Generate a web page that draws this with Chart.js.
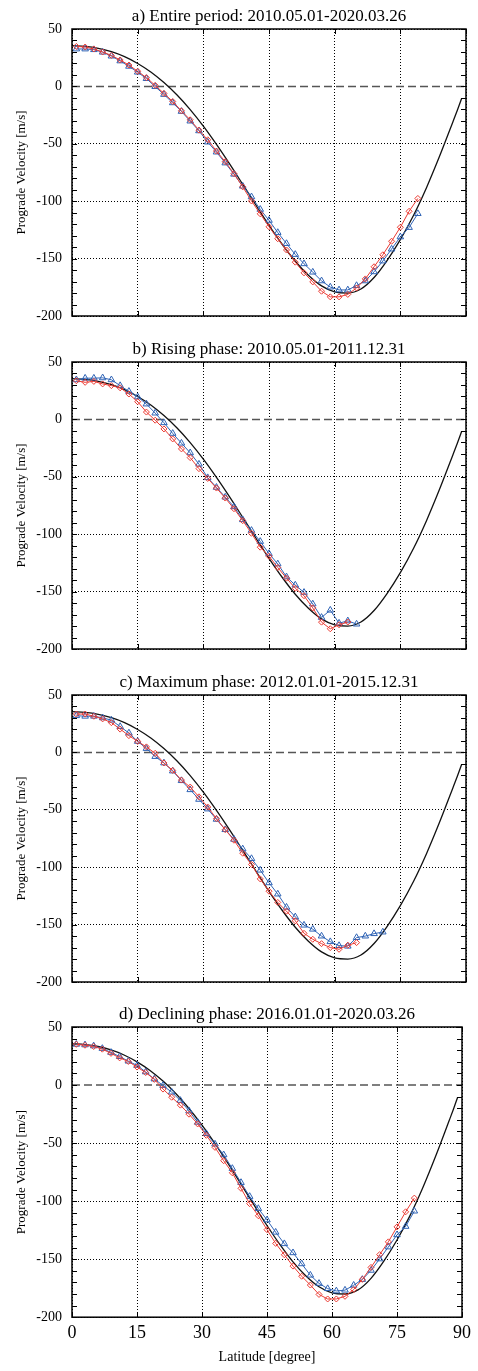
<!DOCTYPE html>
<html>
<head>
<meta charset="utf-8">
<script src="https://cdn.jsdelivr.net/npm/chart.js@4.4.1/dist/chart.umd.min.js"></script>
<style>
  body { margin: 0; background: #fff; }
  canvas { position: absolute; left: 0; }
</style>
</head>
<body>
<canvas id="velocity_chart_0" width="478" height="333" style="top:0px"></canvas>
<canvas id="velocity_chart_1" width="478" height="333" style="top:333px"></canvas>
<canvas id="velocity_chart_2" width="478" height="333" style="top:666px"></canvas>
<canvas id="velocity_chart_3" width="478" height="373" style="top:998px"></canvas>
<script>
// latitudes of the measured points (degrees)
const LAT_ODD = [1, 3, 5, 7, 9, 11, 13, 15, 17, 19, 21, 23, 25, 27, 29, 31, 33, 35, 37, 39,
  41, 43, 45, 47, 49, 51, 53, 55, 57, 59, 61, 63, 65, 67, 69, 71, 73, 75, 77, 79];

// reference profile (black curve)
const CURVE_LAT = [0, 3, 6, 9, 12, 15, 18, 21, 24, 27, 30, 33, 36, 39, 42, 45, 48, 51, 54, 57,
  60, 63, 66, 69, 72, 75, 78, 81, 84, 87, 88, 89];
const CURVE_VEL = [35.5, 34.9, 33.2, 30.2, 25.9, 20.0, 12.6, 3.4, -7.5, -20.2, -34.6, -50.5, -67.5, -85.3, -103.3, -121.0, -137.5, -152.3, -164.5, -173.8,
  -179.0, -180.0, -176.5, -166.5, -151.5, -133.5, -112.5, -88.0, -60.5, -31.0, -21.0, -10.5];

const A_RED = [34.8, 34.3, 32.6, 30.0, 27.0, 23.0, 18.6, 13.2, 7.6, 0.9, -6.1, -13.1, -21.3, -29.1, -38.1, -46.5, -56.3, -65.6, -76.0, -87.5,
  -99.8, -111.0, -122.3, -132.7, -142.5, -153.1, -162.4, -170.3, -178.4, -183.3, -183.3, -181.2, -175.6, -167.7, -157.1, -146.7, -134.9, -122.7, -108.8, -97.6];
const A_BLUE = [32.6, 32.6, 32.0, 29.8, 26.4, 22.2, 17.5, 12.4, 6.8, -0.2, -7.0, -14.3, -21.8, -30.2, -38.7, -48.5, -57.2, -66.7, -76.5, -86.9,
  -96.2, -107.1, -116.7, -127.3, -136.9, -146.4, -154.5, -161.8, -169.4, -174.8, -177.3, -177.3, -173.5, -169.4, -161.5, -152.1, -141.7, -131.1, -122.9, -110.8];

const B_RED = [33.7, 32.3, 33.1, 30.9, 29.4, 27.5, 22.1, 15.4, 6.4, -0.7, -8.3, -17.0, -25.7, -33.3, -42.9, -51.4, -59.8, -68.5, -77.8, -88.2,
  -99.2, -111.3, -119.2, -129.0, -138.3, -147.1, -153.6, -164.2, -176.6, -182.4, -178.9, -176.5];
const B_BLUE = [34.5, 35.9, 35.9, 36.2, 34.5, 29.4, 24.4, 19.6, 13.4, 5.5, -2.9, -12.2, -20.7, -29.1, -39.0, -50.8, -59.2, -67.7, -76.1, -87.4,
  -96.7, -106.3, -116.9, -125.9, -137.2, -144.3, -150.7, -160.8, -172.5, -166.2, -177.5, -175.5, -178.3];

const C_RED = [33.4, 33.4, 31.5, 29.2, 25.9, 20.3, 14.6, 9.6, 4.8, -0.8, -9.2, -15.7, -24.1, -30.2, -38.7, -47.6, -57.7, -67.3, -76.5, -87.8,
  -97.6, -110.2, -120.9, -130.7, -138.3, -146.7, -157.6, -162.8, -166.6, -170.0, -171.5, -168.0, -165.7];
const C_BLUE = [32.0, 31.5, 31.5, 30.1, 28.1, 22.5, 16.9, 9.6, 3.4, -3.6, -9.2, -16.2, -24.6, -32.5, -40.9, -49.3, -58.3, -67.3, -75.7, -84.1,
  -92.5, -102.6, -113.6, -123.4, -134.9, -143.3, -150.5, -154.0, -160.0, -164.9, -168.3, -168.8, -161.3, -160.0, -157.9, -156.5];

const D_RED = [35.1, 34.3, 33.2, 30.9, 27.3, 23.4, 20.3, 15.5, 10.8, 4.9, -3.5, -10.5, -17.3, -25.1, -33.5, -43.3, -53.7, -65.2, -75.6, -89.0,
  -102.2, -112.6, -124.6, -136.4, -146.2, -156.0, -164.7, -172.3, -180.4, -184.3, -184.3, -182.0, -176.2, -167.4, -157.1, -146.1, -135.1, -122.2, -109.2, -97.4];
const D_BLUE = [35.1, 34.6, 33.7, 31.5, 28.1, 24.5, 20.6, 16.9, 11.3, 5.2, -0.4, -6.1, -13.3, -22.3, -32.1, -41.9, -50.9, -60.1, -71.9, -84.0,
  -96.0, -106.4, -116.2, -126.8, -136.7, -144.5, -154.0, -163.8, -170.9, -175.4, -177.4, -176.7, -172.5, -167.5, -159.6, -149.8, -139.5, -129.0, -121.8, -108.6];

const TITLES = [
  'a) Entire period: 2010.05.01-2020.03.26',
  'b) Rising phase: 2010.05.01-2011.12.31',
  'c) Maximum phase: 2012.01.01-2015.12.31',
  'd) Declining phase: 2016.01.01-2020.03.26'
];
const RED_SERIES = [A_RED, B_RED, C_RED, D_RED];
const BLUE_SERIES = [A_BLUE, B_BLUE, C_BLUE, D_BLUE];

const X_MIN = 0, X_MAX = 90, X_STEP = 15;
const Y_MIN = -200, Y_MAX = 50, Y_STEP = 50, Y_MINOR = 10;
const ZERO_LEVEL = 0;

const SERIF = "'Liberation Serif', 'Times New Roman', 'DejaVu Serif', serif";
const RED = '#eb3a32';
const BLUE = '#2f63b5';

function toPoints(xs, ys) {
  let pts = [];
  for (let i = 0; i < ys.length; i++) {
    pts.push({x: xs[i], y: ys[i]});
  }
  return pts;
}

// frame round the plot area plus inward tick marks
const frameTicks = {
  id: 'frameTicks',
  afterDatasetsDraw(chart) {
    const {ctx, chartArea: a, scales: {x, y}} = chart;
    ctx.save();
    ctx.strokeStyle = '#000';
    ctx.lineWidth = 1;
    ctx.beginPath();
    for (let v = Y_MIN; v <= Y_MAX; v += Y_MINOR) {
      const py = Math.round(y.getPixelForValue(v)) + 0.5;
      ctx.moveTo(a.left, py); ctx.lineTo(a.left + 5, py);
      ctx.moveTo(a.right, py); ctx.lineTo(a.right - 5, py);
    }
    for (let v = X_MIN; v <= X_MAX; v += X_STEP) {
      const px = Math.round(x.getPixelForValue(v)) + 0.5;
      ctx.moveTo(px, a.top); ctx.lineTo(px, a.top + 5);
      ctx.moveTo(px, a.bottom); ctx.lineTo(px, a.bottom - 5);
    }
    ctx.stroke();
    ctx.lineWidth = 1.5;
    ctx.strokeRect(a.left, a.top, a.right - a.left, a.bottom - a.top);
    ctx.restore();
  }
};

function renderPanel(index) {
  let last = index == TITLES.length - 1;
  let chart_setup = {
    type: 'line',
    data: {
      datasets: [
        {
          data: toPoints(LAT_ODD, RED_SERIES[index]),
          borderColor: RED,
          borderWidth: 1,
          pointStyle: 'rectRot',
          pointRadius: 3,
          pointBorderColor: RED,
          pointBackgroundColor: 'rgba(0,0,0,0)',
          pointBorderWidth: 1,
          tension: 0
        },
        {
          data: toPoints(LAT_ODD, BLUE_SERIES[index]),
          borderColor: BLUE,
          borderWidth: 1,
          pointStyle: 'triangle',
          pointRadius: 3.8,
          pointBorderColor: BLUE,
          pointBackgroundColor: 'rgba(0,0,0,0)',
          pointBorderWidth: 1,
          tension: 0
        },
        {
          data: toPoints(CURVE_LAT, CURVE_VEL),
          borderColor: '#111',
          borderWidth: 1.3,
          pointRadius: 0,
          cubicInterpolationMode: 'monotone'
        },
        {
          data: [{x: X_MIN, y: ZERO_LEVEL}, {x: X_MAX, y: ZERO_LEVEL}],
          borderColor: '#555',
          borderWidth: 1.5,
          borderDash: [8, 4],
          pointRadius: 0
        }
      ]
    },
    options: {
      responsive: false,
      animation: false,
      events: [],
      layout: {
        padding: {left: 0, right: 12, top: 0, bottom: last ? 3 : 7}
      },
      plugins: {
        legend: {display: false},
        tooltip: {enabled: false},
        title: {
          display: true,
          text: TITLES[index],
          fullSize: false,
          color: '#000',
          font: {family: SERIF, size: 17, weight: 'normal', lineHeight: 1.2},
          padding: {top: 6.8, bottom: 1.8}
        }
      },
      scales: {
        x: {
          type: 'linear',
          min: X_MIN,
          max: X_MAX,
          border: {display: false, dash: [1, 2]},
          grid: {color: '#000', lineWidth: 1, drawTicks: false},
          ticks: {
            display: last,
            stepSize: X_STEP,
            color: '#000',
            padding: 7,
            font: {family: SERIF, size: 18, lineHeight: 1}
          },
          title: {
            display: last,
            text: 'Latitude [degree]',
            color: '#000',
            font: {family: SERIF, size: 14, lineHeight: 1.2},
            padding: {top: 0, bottom: 2}
          }
        },
        y: {
          min: Y_MIN,
          max: Y_MAX,
          border: {display: false, dash: [1, 2]},
          grid: {
            color: (c) => (c.tick && c.tick.value === ZERO_LEVEL) ? 'rgba(0,0,0,0)' : '#000',
            lineWidth: 1,
            drawTicks: false
          },
          ticks: {
            stepSize: Y_STEP,
            color: '#000',
            padding: 10,
            font: {family: SERIF, size: 14, lineHeight: 1}
          },
          title: {
            display: true,
            text: 'Prograde Velocity [m/s]',
            color: '#000',
            font: {family: SERIF, size: 13, lineHeight: 1.2},
            padding: {top: 14, bottom: 0}
          },
          afterFit: function(scale) { scale.width = 72; }
        }
      }
    },
    plugins: [frameTicks]
  };

  const ctx = document.getElementById(`velocity_chart_${index}`);
  new Chart(ctx, chart_setup);
}

for (let i = 0; i < TITLES.length; i++) {
  renderPanel(i);
}
</script>
</body>
</html>
